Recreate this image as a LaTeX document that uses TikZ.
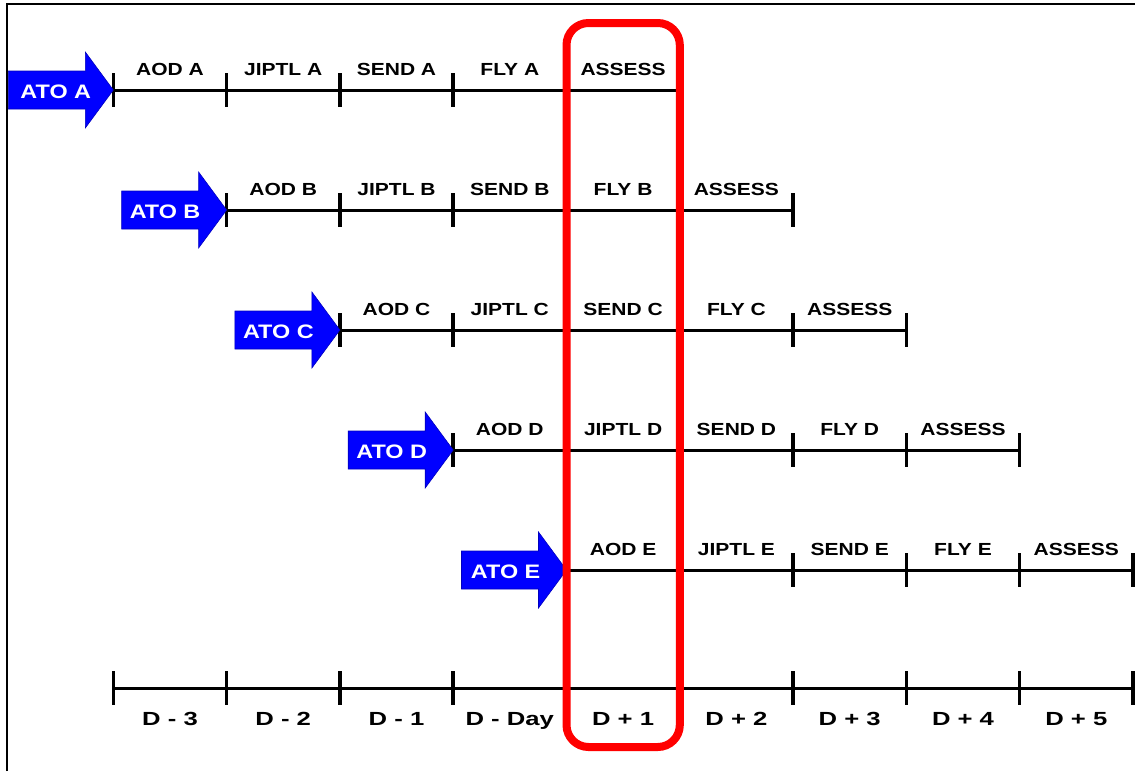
\documentclass[tikz,border=0pt]{standalone}
\usepackage{fontspec}
\setmainfont{Liberation Sans}[FakeStretch=1.2]
\newfontfamily\dayfont{Liberation Sans}[FakeStretch=1.35]
\usetikzlibrary{positioning}

\tikzset{
  tline/.style={line width=3pt},
  tickmark/.style={line width=3.5pt},
  lbl/.style={font=\fontsize{17.5}{20}\selectfont\bfseries, inner sep=0pt, anchor=base},
  daylbl/.style={font=\dayfont\fontsize{19}{22}\selectfont\bfseries, inner sep=0pt, anchor=base},
  atoarrow/.style={fill=blue, draw=blue!75!black, line width=0.6pt},
  atolbl/.style={font=\fontsize{19.5}{22}\selectfont\bfseries, text=white, inner sep=0pt, anchor=base east},
  focusbox/.style={draw=red, line width=8pt, rounded corners=22pt}
}

\begin{document}
\begin{tikzpicture}[x=1pt,y=-1pt]
\useasboundingbox (0,0) rectangle (1135,771);
\fill[white] (0,0) rectangle (1135,771);
% frame
\draw[line width=2.3pt] (7,771) -- (7,4) -- (1135,4);
% Row A
\coordinate (a0) at (113.3,90);
\coordinate (a1) at (226.6,90);
\coordinate (a2) at (339.9,90);
\coordinate (a3) at (453.2,90);
\coordinate (a4) at (566.5,90);
\coordinate (a5) at (679.8,90);
\draw[tline] (a0) -- (a5);
\draw[tickmark] ([yshift=17pt]a0) -- ([yshift=-17pt]a0);
\draw[tickmark] ([yshift=17pt]a1) -- ([yshift=-17pt]a1);
\draw[tickmark] ([yshift=17pt]a2) -- ([yshift=-17pt]a2);
\draw[tickmark] ([yshift=17pt]a3) -- ([yshift=-17pt]a3);
\node[lbl] (aodA) at (170,75) {AOD A};
\node[lbl] (jiptlA) at (283.2,75) {JIPTL A};
\node[lbl] (sendA) at (396.5,75) {SEND A};
\node[lbl] (flyA) at (509.8,75) {FLY A};
\node[lbl] (assA) at (623.1,75) {ASSESS};
\fill[atoarrow] (a0) -- ++(-28,-38) -- ++(0,19) -- ++(-77,0) -- ++(0,38) -- ++(77,0) -- ++(0,19) -- cycle;
\node[atolbl] (atoA) at ([xshift=-22pt,yshift=-8pt]a0) {ATO A};
% Row B
\coordinate (b0) at (226.6,210);
\coordinate (b1) at (339.9,210);
\coordinate (b2) at (453.2,210);
\coordinate (b3) at (566.5,210);
\coordinate (b4) at (679.8,210);
\coordinate (b5) at (793.1,210);
\draw[tline] (b0) -- (b5);
\draw[tickmark] ([yshift=17pt]b0) -- ([yshift=-17pt]b0);
\draw[tickmark] ([yshift=17pt]b1) -- ([yshift=-17pt]b1);
\draw[tickmark] ([yshift=17pt]b2) -- ([yshift=-17pt]b2);
\draw[tickmark] ([yshift=17pt]b5) -- ([yshift=-17pt]b5);
\node[lbl] (aodB) at (283.2,195) {AOD B};
\node[lbl] (jiptlB) at (396.5,195) {JIPTL B};
\node[lbl] (sendB) at (509.8,195) {SEND B};
\node[lbl] (flyB) at (623.1,195) {FLY B};
\node[lbl] (assB) at (736.4,195) {ASSESS};
\fill[atoarrow] (b0) -- ++(-28,-38) -- ++(0,19) -- ++(-77,0) -- ++(0,38) -- ++(77,0) -- ++(0,19) -- cycle;
\node[atolbl] (atoB) at ([xshift=-26pt,yshift=-8pt]b0) {ATO B};
% Row C
\coordinate (c0) at (339.9,330);
\coordinate (c1) at (453.2,330);
\coordinate (c2) at (566.5,330);
\coordinate (c3) at (679.8,330);
\coordinate (c4) at (793.1,330);
\coordinate (c5) at (906.4,330);
\draw[tline] (c0) -- (c5);
\draw[tickmark] ([yshift=17pt]c0) -- ([yshift=-17pt]c0);
\draw[tickmark] ([yshift=17pt]c1) -- ([yshift=-17pt]c1);
\draw[tickmark] ([yshift=17pt]c4) -- ([yshift=-17pt]c4);
\draw[tickmark] ([yshift=17pt]c5) -- ([yshift=-17pt]c5);
\node[lbl] (aodC) at (396.5,315) {AOD C};
\node[lbl] (jiptlC) at (509.8,315) {JIPTL C};
\node[lbl] (sendC) at (623.1,315) {SEND C};
\node[lbl] (flyC) at (736.4,315) {FLY C};
\node[lbl] (assC) at (849.7,315) {ASSESS};
\fill[atoarrow] (c0) -- ++(-28,-38) -- ++(0,19) -- ++(-77,0) -- ++(0,38) -- ++(77,0) -- ++(0,19) -- cycle;
\node[atolbl] (atoC) at ([xshift=-26pt,yshift=-8pt]c0) {ATO C};
% Row D
\coordinate (d0) at (453.2,450);
\coordinate (d1) at (566.5,450);
\coordinate (d2) at (679.8,450);
\coordinate (d3) at (793.1,450);
\coordinate (d4) at (906.4,450);
\coordinate (d5) at (1019.7,450);
\draw[tline] (d0) -- (d5);
\draw[tickmark] ([yshift=17pt]d0) -- ([yshift=-17pt]d0);
\draw[tickmark] ([yshift=17pt]d3) -- ([yshift=-17pt]d3);
\draw[tickmark] ([yshift=17pt]d4) -- ([yshift=-17pt]d4);
\draw[tickmark] ([yshift=17pt]d5) -- ([yshift=-17pt]d5);
\node[lbl] (aodD) at (509.8,435) {AOD D};
\node[lbl] (jiptlD) at (623.1,435) {JIPTL D};
\node[lbl] (sendD) at (736.4,435) {SEND D};
\node[lbl] (flyD) at (849.7,435) {FLY D};
\node[lbl] (assD) at (963,435) {ASSESS};
\fill[atoarrow] (d0) -- ++(-28,-38) -- ++(0,19) -- ++(-77,0) -- ++(0,38) -- ++(77,0) -- ++(0,19) -- cycle;
\node[atolbl] (atoD) at ([xshift=-26pt,yshift=-8pt]d0) {ATO D};
% Row E
\coordinate (e0) at (566.5,570);
\coordinate (e1) at (679.8,570);
\coordinate (e2) at (793.1,570);
\coordinate (e3) at (906.4,570);
\coordinate (e4) at (1019.7,570);
\coordinate (e5) at (1133,570);
\draw[tline] (e0) -- (e5);
\draw[tickmark] ([yshift=17pt]e2) -- ([yshift=-17pt]e2);
\draw[tickmark] ([yshift=17pt]e3) -- ([yshift=-17pt]e3);
\draw[tickmark] ([yshift=17pt]e4) -- ([yshift=-17pt]e4);
\draw[tickmark] ([yshift=17pt]e5) -- ([yshift=-17pt]e5);
\node[lbl] (aodE) at (623.1,555) {AOD E};
\node[lbl] (jiptlE) at (736.4,555) {JIPTL E};
\node[lbl] (sendE) at (849.7,555) {SEND E};
\node[lbl] (flyE) at (963,555) {FLY E};
\node[lbl] (assE) at (1076.3,555) {ASSESS};
\fill[atoarrow] (e0) -- ++(-28,-38) -- ++(0,19) -- ++(-77,0) -- ++(0,38) -- ++(77,0) -- ++(0,19) -- cycle;
\node[atolbl] (atoE) at ([xshift=-26pt,yshift=-8pt]e0) {ATO E};
% Day scale
\coordinate (s1) at (113.3,688);
\coordinate (s2) at (226.6,688);
\coordinate (s3) at (339.9,688);
\coordinate (s4) at (453.2,688);
\coordinate (s5) at (566.5,688);
\coordinate (s6) at (679.8,688);
\coordinate (s7) at (793.1,688);
\coordinate (s8) at (906.4,688);
\coordinate (s9) at (1019.7,688);
\coordinate (s10) at (1133,688);
\draw[tline] (s1) -- (s10);
\draw[tickmark] ([yshift=17pt]s1) -- ([yshift=-17pt]s1);
\draw[tickmark] ([yshift=17pt]s2) -- ([yshift=-17pt]s2);
\draw[tickmark] ([yshift=17pt]s3) -- ([yshift=-17pt]s3);
\draw[tickmark] ([yshift=17pt]s4) -- ([yshift=-17pt]s4);
\draw[tickmark] ([yshift=17pt]s7) -- ([yshift=-17pt]s7);
\draw[tickmark] ([yshift=17pt]s8) -- ([yshift=-17pt]s8);
\draw[tickmark] ([yshift=17pt]s9) -- ([yshift=-17pt]s9);
\draw[tickmark] ([yshift=17pt]s10) -- ([yshift=-17pt]s10);
\node[daylbl] (dm3) at (170,725) {D - 3};
\node[daylbl] (dm2) at (283.2,725) {D - 2};
\node[daylbl] (dm1) at (396.5,725) {D - 1};
\node[daylbl] (dday) at (509.8,725) {D - Day};
\node[daylbl] (dp1) at (623.1,725) {D + 1};
\node[daylbl] (dp2) at (736.4,725) {D + 2};
\node[daylbl] (dp3) at (849.7,725) {D + 3};
\node[daylbl] (dp4) at (963,725) {D + 4};
\node[daylbl] (dp5) at (1076.3,725) {D + 5};
% D + 1 column
\draw[focusbox] (566.5,23) rectangle (679.8,747);
\end{tikzpicture}
\end{document}
